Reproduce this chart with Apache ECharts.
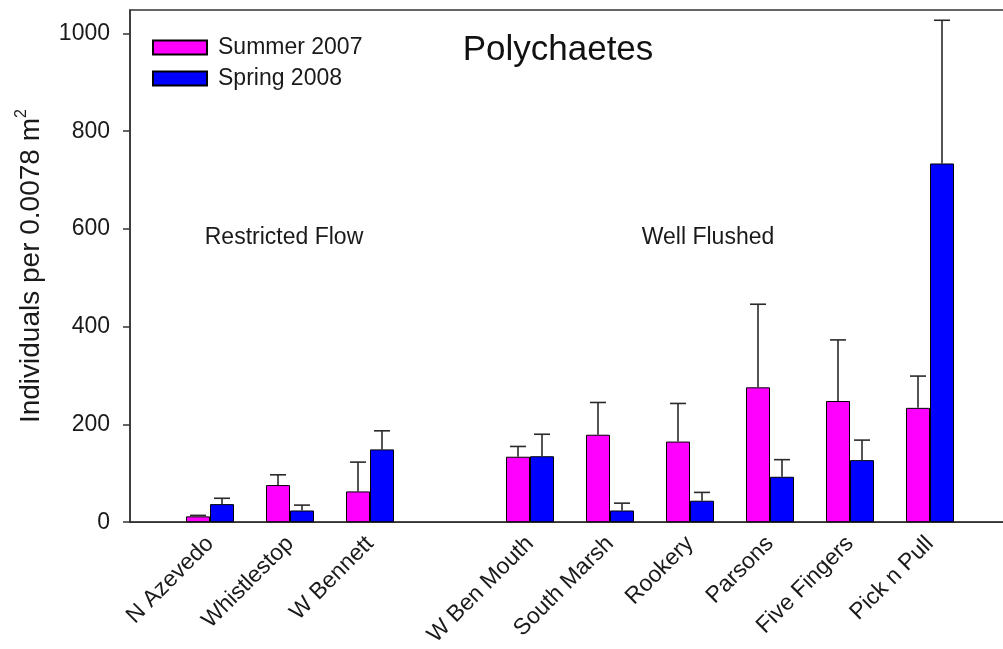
<!DOCTYPE html>
<html>
<head>
<meta charset="utf-8">
<script src="https://cdn.jsdelivr.net/npm/echarts@6/dist/echarts.min.js"></script>
<style>
html,body{margin:0;padding:0;background:#fff;overflow:hidden;width:1003px;height:649px;}
#chart{width:1040px;height:649px;}
</style>
</head>
<body>
<div id="chart"></div>
<script>
// ---- data ----
const restrictedSites = ['N Azevedo', 'Whistlestop', 'W Bennett'];
const flushedSites = ['W Ben Mouth', 'South Marsh', 'Rookery', 'Parsons', 'Five Fingers', 'Pick n Pull'];
const seriesNames = ['Summer 2007', 'Spring 2008'];
const summerMean = [12, 76, 63, 134, 179, 165, 276, 248, 234];
const summerSE   = [2, 21, 60, 21, 66, 78, 170, 125, 65];
const springMean = [37, 24, 149, 135, 24, 44, 93, 127, 734];
const springSE   = [12, 11, 38, 45, 15, 17, 35, 41, 293];
const yTicks = [0, 200, 400, 600, 800, 1000];
const groupLabels = ['Restricted Flow', 'Well Flushed'];
const titleText = 'Polychaetes';

// ---- build category axis with spacer slots ----
const categories = [''].concat(restrictedSites, [' '], flushedSites, ['  ']);
function slotIndex(i) { // site index -> axis index
  return i < restrictedSites.length ? i + 1 : i + 2;
}
function toSlots(arr) {
  const out = categories.map(() => '-');
  arr.forEach((v, i) => { out[slotIndex(i)] = v; });
  return out;
}
function errData(mean, se) {
  return mean.map((m, i) => [slotIndex(i), m, m + se[i]]);
}

const FONT = 'Liberation Sans, Arial, Helvetica, sans-serif';
const BAR_W = 24;
const TXT = '#1a1a1a';

function errRender(offset) {
  return function (params, api) {
    const idx = api.value(0);
    const lo = api.coord([idx, api.value(1)]);
    const hi = api.coord([idx, api.value(2)]);
    const x = lo[0] + offset;
    const cap = 8;
    const st = { stroke: '#2a2a2a', lineWidth: 1.6 };
    return {
      type: 'group',
      children: [
        { type: 'line', shape: { x1: x, y1: lo[1], x2: x, y2: hi[1] }, style: st },
        { type: 'line', shape: { x1: x - cap, y1: hi[1], x2: x + cap, y2: hi[1] }, style: st }
      ]
    };
  };
}

const chart = echarts.init(document.getElementById('chart'), null, { renderer: 'canvas', width: 1040, height: 649 });
chart.setOption({
  backgroundColor: '#fff',
  animation: false,
  textStyle: { fontFamily: FONT },
  title: {
    text: titleText,
    left: 553, top: 28, textAlign: 'center',
    textStyle: { fontFamily: FONT, fontSize: 35, fontWeight: 'normal', color: '#111' }
  },
  legend: {
    orient: 'vertical',
    left: 147, top: 31,
    itemWidth: 54, itemHeight: 14,
    itemGap: 8,
    icon: 'rect',
    data: seriesNames,
    textStyle: { fontFamily: FONT, fontSize: 23, color: TXT, lineHeight: 22, padding: [0, 0, 0, 6] }
  },
  grid: {
    left: 130, top: 10, width: 880, bottom: 126,
    show: true, borderColor: '#333', borderWidth: 1.5,
    containLabel: false
  },
  xAxis: {
    type: 'category',
    data: categories,
    boundaryGap: false,
    axisLine: { lineStyle: { color: '#333', width: 1.5 } },
    axisTick: { show: false },
    axisLabel: {
      interval: 0, rotate: 45, margin: 18,
      fontFamily: FONT, fontSize: 23, color: TXT
    },
    splitLine: { show: false }
  },
  yAxis: {
    type: 'value',
    min: 0, max: 1048, interval: 200,
    name: 'Individuals per 0.0078 m{sup|2}',
    nameLocation: 'middle',
    nameGap: 82,
    nameTextStyle: {
      fontFamily: FONT, fontSize: 28, color: TXT, lineHeight: 34,
      rich: { sup: { fontFamily: FONT, fontSize: 16, color: TXT, verticalAlign: 'top', lineHeight: 16 } }
    },
    axisLine: { show: true, lineStyle: { color: '#333', width: 1.5 } },
    axisTick: { show: true, length: 7, lineStyle: { color: '#333', width: 1.5 }, customValues: yTicks },
    axisLabel: { fontFamily: FONT, fontSize: 23, color: TXT, margin: 20, customValues: yTicks, formatter: function (v) { return String(v); } },
    splitLine: { show: false }
  },
  graphic: [
    { type: 'text', x: 284, y: 238, style: { text: groupLabels[0], font: '23px ' + FONT, fill: TXT, textAlign: 'center', textVerticalAlign: 'middle', align: 'center', verticalAlign: 'middle' } },
    { type: 'text', x: 708, y: 238, style: { text: groupLabels[1], font: '23px ' + FONT, fill: TXT, textAlign: 'center', textVerticalAlign: 'middle', align: 'center', verticalAlign: 'middle' } }
  ],
  series: [
    {
      name: seriesNames[0], type: 'bar', data: toSlots(summerMean),
      barWidth: BAR_W, barGap: '0%',
      itemStyle: { color: '#ff00ff', borderColor: '#000', borderWidth: 1 }
    },
    {
      name: seriesNames[1], type: 'bar', data: toSlots(springMean),
      barWidth: BAR_W, barGap: '0%',
      itemStyle: { color: '#0000ff', borderColor: '#000', borderWidth: 1 }
    },
    {
      type: 'custom', name: 'err1', renderItem: errRender(-BAR_W / 2),
      data: errData(summerMean, summerSE), z: 3, silent: true
    },
    {
      type: 'custom', name: 'err2', renderItem: errRender(BAR_W / 2),
      data: errData(springMean, springSE), z: 3, silent: true
    }
  ]
});
</script>
</body>
</html>
